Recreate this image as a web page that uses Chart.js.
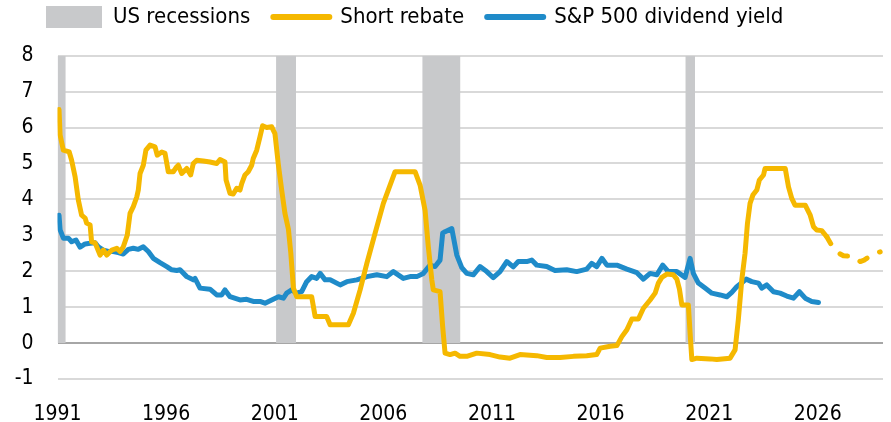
<!DOCTYPE html>
<html><head><meta charset="utf-8">
<script src="https://cdn.jsdelivr.net/npm/chart.js@4/dist/chart.umd.min.js"></script>
<style>html,body{margin:0;padding:0;background:#fff;}canvas{display:block;}</style>
</head><body>
<canvas id="c" width="891" height="422"></canvas>
<script>
// ---- data ----
const seriesNames = ['US recessions', 'Short rebate', 'S&P 500 dividend yield'];
const xTickYears = [1991, 1996, 2001, 2006, 2011, 2016, 2021, 2026];
const yTickValues = [-1, 0, 1, 2, 3, 4, 5, 6, 7, 8];

const recessionStart = [1991.00, 2001.06, 2007.79, 2019.90];
const recessionEnd   = [1991.38, 2001.98, 2009.55, 2020.35];

const rebateYears = [1991.07,1991.12,1991.27,1991.54,1991.65,1991.81,1991.96,1992.11,1992.27,1992.34,1992.50,1992.57,1992.73,1992.96,1993.11,1993.27,1993.50,1993.73,1993.88,1994.03,1994.21,1994.34,1994.49,1994.65,1994.72,1994.80,1994.95,1995.07,1995.26,1995.49,1995.59,1995.80,1995.95,1996.10,1996.33,1996.49,1996.56,1996.72,1996.95,1997.13,1997.25,1997.41,1997.71,1998.02,1998.33,1998.48,1998.71,1998.76,1998.94,1999.09,1999.25,1999.40,1999.48,1999.63,1999.78,1999.94,2000.01,2000.17,2000.32,2000.44,2000.63,2000.86,2001.01,2001.17,2001.32,2001.47,2001.63,2001.74,2001.86,2002.01,2002.70,2002.86,2003.39,2003.55,2004.39,2004.62,2004.93,2005.24,2005.62,2006.00,2006.31,2006.54,2007.46,2007.69,2007.92,2008.07,2008.23,2008.30,2008.61,2008.73,2008.84,2009.07,2009.30,2009.53,2009.84,2010.30,2010.91,2011.37,2011.83,2012.29,2013.06,2013.52,2014.14,2014.75,2015.36,2015.82,2015.98,2016.44,2016.75,2016.98,2017.21,2017.44,2017.74,2017.97,2018.28,2018.51,2018.66,2018.82,2019.05,2019.35,2019.51,2019.63,2019.74,2020.04,2020.12,2020.20,2020.43,2021.04,2021.35,2021.96,2022.19,2022.34,2022.50,2022.65,2022.76,2022.88,2023.01,2023.19,2023.31,2023.50,2023.57,2024.50,2024.65,2024.80,2024.95,2025.42,2025.65,2025.80,2025.95,2026.18,2026.41,2026.72,2027.03,2027.18,2027.64,2027.95,2028.13,2028.56,2028.87];
const rebateValues = [6.50,5.79,5.37,5.32,5.09,4.63,3.98,3.56,3.48,3.34,3.29,2.82,2.79,2.45,2.59,2.45,2.59,2.64,2.55,2.68,3.00,3.61,3.80,4.07,4.26,4.72,4.95,5.37,5.51,5.46,5.23,5.32,5.28,4.77,4.77,4.91,4.95,4.72,4.86,4.68,5.00,5.09,5.07,5.04,5.00,5.11,5.04,4.54,4.17,4.15,4.31,4.26,4.44,4.68,4.77,4.95,5.14,5.37,5.74,6.05,6.00,6.02,5.83,4.95,4.26,3.61,3.17,2.50,1.53,1.29,1.29,0.74,0.74,0.51,0.51,0.83,1.48,2.22,3.06,3.89,4.40,4.77,4.77,4.40,3.70,2.68,1.76,1.48,1.43,0.46,-0.28,-0.32,-0.28,-0.37,-0.37,-0.28,-0.32,-0.39,-0.42,-0.32,-0.35,-0.40,-0.40,-0.37,-0.35,-0.32,-0.14,-0.09,-0.07,0.18,0.37,0.67,0.67,0.97,1.20,1.39,1.67,1.83,1.92,1.90,1.78,1.50,1.06,1.06,0.28,-0.46,-0.42,-0.44,-0.46,-0.42,-0.19,0.65,1.76,2.50,3.33,3.89,4.12,4.26,4.54,4.68,4.86,4.86,4.35,4.03,3.84,3.84,3.56,3.24,3.15,3.13,2.96,2.64,2.48,2.43,2.41,2.27,2.31,2.48,2.54];
const forecastFrom = 2026.41; // short rebate is dashed (projection) from here

const yieldYears = [1991.07,1991.12,1991.27,1991.50,1991.65,1991.85,1992.04,1992.27,1992.50,1992.73,1992.88,1993.11,1993.34,1993.57,1993.80,1994.03,1994.26,1994.49,1994.72,1994.95,1995.18,1995.41,1995.72,1996.03,1996.26,1996.49,1996.64,1996.95,1997.25,1997.33,1997.56,1998.02,1998.33,1998.56,1998.71,1998.94,1999.40,1999.71,2000.01,2000.32,2000.55,2000.86,2001.17,2001.40,2001.55,2001.78,2002.01,2002.24,2002.47,2002.70,2002.93,2003.09,2003.32,2003.55,2004.01,2004.32,2004.78,2005.24,2005.70,2006.16,2006.46,2006.92,2007.23,2007.54,2007.84,2008.15,2008.38,2008.61,2008.73,2008.84,2009.15,2009.38,2009.61,2009.84,2010.14,2010.45,2010.76,2011.06,2011.37,2011.68,2011.98,2012.21,2012.60,2012.83,2013.06,2013.52,2013.90,2014.44,2014.90,2015.36,2015.59,2015.82,2016.06,2016.29,2016.75,2017.21,2017.67,2017.97,2018.28,2018.59,2018.86,2019.12,2019.51,2019.89,2020.12,2020.27,2020.50,2020.81,2021.12,2021.50,2021.81,2022.04,2022.27,2022.50,2022.70,2022.96,2023.27,2023.42,2023.65,2023.96,2024.26,2024.57,2024.88,2025.15,2025.42,2025.72,2026.03];
const yieldValues = [3.56,3.15,2.92,2.92,2.82,2.87,2.67,2.76,2.78,2.79,2.68,2.59,2.55,2.55,2.52,2.48,2.61,2.64,2.61,2.68,2.55,2.36,2.24,2.13,2.04,2.02,2.04,1.85,1.76,1.80,1.53,1.50,1.34,1.34,1.48,1.29,1.20,1.22,1.16,1.16,1.11,1.20,1.29,1.25,1.39,1.48,1.39,1.43,1.71,1.85,1.80,1.94,1.76,1.76,1.62,1.71,1.76,1.85,1.90,1.85,1.99,1.80,1.85,1.85,1.94,2.17,2.13,2.31,3.06,3.10,3.19,2.45,2.10,1.94,1.90,2.13,1.99,1.82,1.99,2.27,2.12,2.27,2.27,2.31,2.17,2.13,2.02,2.04,1.99,2.06,2.22,2.13,2.36,2.17,2.17,2.06,1.96,1.78,1.94,1.90,2.17,1.99,1.99,1.83,2.36,1.94,1.67,1.53,1.39,1.34,1.29,1.41,1.57,1.68,1.78,1.71,1.67,1.53,1.62,1.43,1.39,1.31,1.25,1.43,1.25,1.16,1.13];

// ---- styling ----
const FONT = "'DejaVu Sans Condensed', 'DejaVu Sans', sans-serif";
const COL = { rec: '#c8c9cb', rebate: '#f5b800', yield: '#1f8bc9', text: '#000000' };
const yTop = Math.max(...yTickValues);
const LEGEND_FONT = 22, LEGEND_PAD = 23;

const recessionPoints = [];
recessionStart.forEach((s, i) => {
  recessionPoints.push({ x: s, y: yTop }, { x: recessionEnd[i], y: yTop }, { x: recessionEnd[i], y: null });
});

// place the legend row like the reference (starts at x=46, centred on y=17)
const legendOffset = {
  id: 'legendOffset',
  afterLayout(chart) {
    if (!chart.legend) return;
    chart.legend.left = 46 - LEGEND_PAD;
    chart.legend.top = 17 - LEGEND_PAD - LEGEND_FONT / 2;
  }
};

new Chart(document.getElementById('c'), {
  type: 'line',
  data: {
    datasets: [
      {
        label: seriesNames[0], data: recessionPoints, order: 3,
        backgroundColor: COL.rec, borderColor: 'rgba(0,0,0,0)', borderWidth: 0,
        fill: 'origin', pointRadius: 0, spanGaps: false
      },
      {
        label: seriesNames[1], order: 1,
        data: rebateYears.map((x, i) => ({ x, y: rebateValues[i] })),
        borderColor: COL.rebate, borderWidth: 5, pointRadius: 0, fill: false,
        borderJoinStyle: 'round', borderCapStyle: 'round', tension: 0,
        segment: { borderDash: ctx => (ctx.p0.parsed.x >= forecastFrom - 1e-6 ? [8, 14] : undefined) }
      },
      {
        label: seriesNames[2], order: 2,
        data: yieldYears.map((x, i) => ({ x, y: yieldValues[i] })),
        borderColor: COL.yield, borderWidth: 5, pointRadius: 0, fill: false,
        borderJoinStyle: 'round', borderCapStyle: 'round', tension: 0
      }
    ]
  },
  options: {
    responsive: false, animation: false, devicePixelRatio: 1,
    layout: { padding: { top: 0, left: 0, right: 8, bottom: 0 } },
    plugins: {
      tooltip: { enabled: false },
      legend: {
        position: 'top', align: 'start',
        labels: {
          usePointStyle: true, pointStyleWidth: 56, boxHeight: 22, padding: LEGEND_PAD,
          font: { family: FONT, size: LEGEND_FONT }, color: COL.text,
          generateLabels: () => [
            { text: seriesNames[0], fillStyle: COL.rec, strokeStyle: COL.rec, lineWidth: 0, pointStyle: 'rect', datasetIndex: 0, fontColor: COL.text, hidden: false },
            { text: seriesNames[1], fillStyle: COL.rebate, strokeStyle: COL.rebate, lineWidth: 6, lineCap: 'round', pointStyle: 'line', datasetIndex: 1, fontColor: COL.text, hidden: false },
            { text: seriesNames[2], fillStyle: COL.yield, strokeStyle: COL.yield, lineWidth: 6, lineCap: 'round', pointStyle: 'line', datasetIndex: 2, fontColor: COL.text, hidden: false }
          ]
        }
      }
    },
    scales: {
      x: {
        type: 'linear', min: 1991, max: 2029,
        afterBuildTicks: ax => { ax.ticks = xTickYears.map(v => ({ value: v })); },
        afterFit: ax => { ax.height = 43; },
        grid: { display: false }, border: { display: false },
        ticks: { padding: 15, maxRotation: 0, autoSkip: false, font: { family: FONT, size: 21 }, color: COL.text, callback: v => String(v) }
      },
      y: {
        min: -1, max: 8,
        afterBuildTicks: ax => { ax.ticks = yTickValues.map(v => ({ value: v })); },
        afterFit: ax => { ax.width = 57.5; ax.paddingTop = 55.7; },
        grid: { color: c => (c.tick && c.tick.value === 0 ? '#a6a6a6' : '#d9d9d9'), lineWidth: 2, drawTicks: false },
        border: { display: false },
        ticks: { padding: 24, font: { family: FONT, size: 21 }, color: COL.text, callback: v => String(v) }
      }
    }
  },
  plugins: [legendOffset]
});
</script>
</body></html>
